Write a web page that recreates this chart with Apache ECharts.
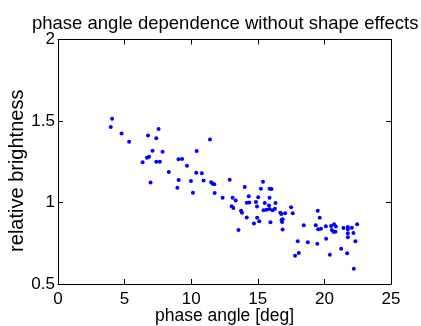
<!DOCTYPE html>
<html>
<head>
<meta charset="utf-8">
<script src="https://cdn.jsdelivr.net/npm/echarts@6/dist/echarts.min.js"></script>
<style>html,body{margin:0;padding:0;background:#fff}#c{width:421px;height:326px}</style>
</head>
<body>
<div id="c"></div>
<script>
var titleText = 'phase angle dependence without shape effects';
var xName = 'phase angle [deg]';
var yName = 'relative brightness';
var xTicks = [0, 5, 10, 15, 20, 25];
var yTicks = [0.5, 1, 1.5, 2];
var phaseAngle = [4.06,3.96,4.77,5.34,6.76,7.55,7.38,7.10,7.85,6.84,6.68,6.35,7.38,7.65,8.32,9.05,6.95,9.06,8.96,
  11.41,10.41,9.32,9.68,10.38,10.80,9.98,10.93,11.50,11.61,11.73,10.13,11.76,12.89,12.36,13.11,13.34,
  14.02,15.39,15.23,15.88,16.03,14.32,15.03,14.17,14.36,14.86,15.52,15.88,16.33,13.04,13.17,14.94,15.84,
  15.43,15.65,15.88,16.11,16.29,13.74,13.81,14.17,14.95,15.11,14.71,15.95,16.69,16.77,17.05,16.78,16.87,
  16.82,16.86,13.55,17.50,17.62,19.50,19.65,18.45,19.35,19.53,19.75,20.11,20.50,20.73,20.86,20.56,20.68,
  20.83,21.43,21.76,21.76,22.06,22.46,21.76,22.18,21.76,20.13,18.00,18.75,19.47,22.33,21.26,21.71,18.08,
  17.80,20.41,22.21];
var brightness = [1.514,1.463,1.423,1.373,1.411,1.451,1.394,1.318,1.312,1.281,1.274,1.247,1.250,1.250,1.187,1.266,1.123,1.138,1.090,
  1.387,1.316,1.267,1.226,1.183,1.179,1.132,1.135,1.124,1.115,1.112,1.060,1.058,1.140,1.029,1.029,1.013,
  1.095,1.127,1.084,1.085,1.083,1.039,1.032,0.999,1.000,1.003,0.997,1.029,0.997,0.977,0.967,0.975,0.982,
  0.952,0.955,0.960,0.953,0.962,0.949,0.937,0.908,0.906,0.885,0.871,0.879,0.937,0.929,0.934,0.893,0.897,
  0.880,0.834,0.831,0.971,0.934,0.950,0.907,0.860,0.860,0.836,0.839,0.854,0.856,0.866,0.852,0.831,0.821,
  0.821,0.844,0.850,0.836,0.845,0.866,0.811,0.813,0.787,0.778,0.762,0.756,0.747,0.762,0.717,0.688,0.690,
  0.674,0.680,0.594];

var pts = phaseAngle.map(function(x, i){ return [x, brightness[i]]; });
var FONT = 'Liberation Sans, Arial, sans-serif';
var chart = echarts.init(document.getElementById('c'), null, {renderer: 'canvas'});
var axisCommonX = {
  type: 'value', min: xTicks[0], max: xTicks[xTicks.length-1], interval: xTicks[1]-xTicks[0],
  splitLine: {show: false},
  axisLine: {show: true, onZero: false, lineStyle: {color: '#000', width: 1}},
  axisTick: {show: true, inside: true, length: 5, lineStyle: {color: '#000'}}
};
var axisCommonY = {
  type: 'value', min: yTicks[0], max: yTicks[yTicks.length-1], interval: yTicks[1]-yTicks[0],
  splitLine: {show: false},
  axisLine: {show: true, onZero: false, lineStyle: {color: '#000', width: 1}},
  axisTick: {show: true, inside: true, length: 5, lineStyle: {color: '#000'}}
};
chart.setOption({
  animation: false,
  backgroundColor: '#fff',
  title: {
    text: titleText, left: 27, top: 9,
    textStyle: {fontFamily: FONT, fontSize: 18.5, fontWeight: 'normal', color: '#000'}
  },
  grid: {left: 58, right: 30, top: 39.5, bottom: 42, containLabel: false, outerBoundsMode: 'none'},
  xAxis: [
    Object.assign({}, axisCommonX, {
      position: 'bottom', name: xName, nameLocation: 'middle', nameGap: 23, nameMoveOverlap: false,
      nameTextStyle: {fontFamily: FONT, fontSize: 17.5, color: '#000'},
      axisLabel: {show: true, margin: 7, fontFamily: FONT, fontSize: 17, color: '#000'}
    }),
    Object.assign({}, axisCommonX, {position: 'top', axisLabel: {show: false}})
  ],
  yAxis: [
    Object.assign({}, axisCommonY, {
      position: 'left', name: yName, nameLocation: 'middle', nameGap: 31, nameRotate: 90, nameMoveOverlap: false,
      nameTextStyle: {fontFamily: FONT, fontSize: 20, color: '#000', padding: [0, 18, 0, 0]},
      axisLabel: {show: true, margin: 3, fontFamily: FONT, fontSize: 17, color: '#000'}
    }),
    Object.assign({}, axisCommonY, {position: 'right', axisLabel: {show: false}})
  ],
  series: [{
    type: 'scatter', xAxisIndex: 0, yAxisIndex: 0, data: pts,
    symbol: 'circle', symbolSize: 4,
    itemStyle: {color: '#0000ff', opacity: 1}
  }]
});
</script>
</body>
</html>
